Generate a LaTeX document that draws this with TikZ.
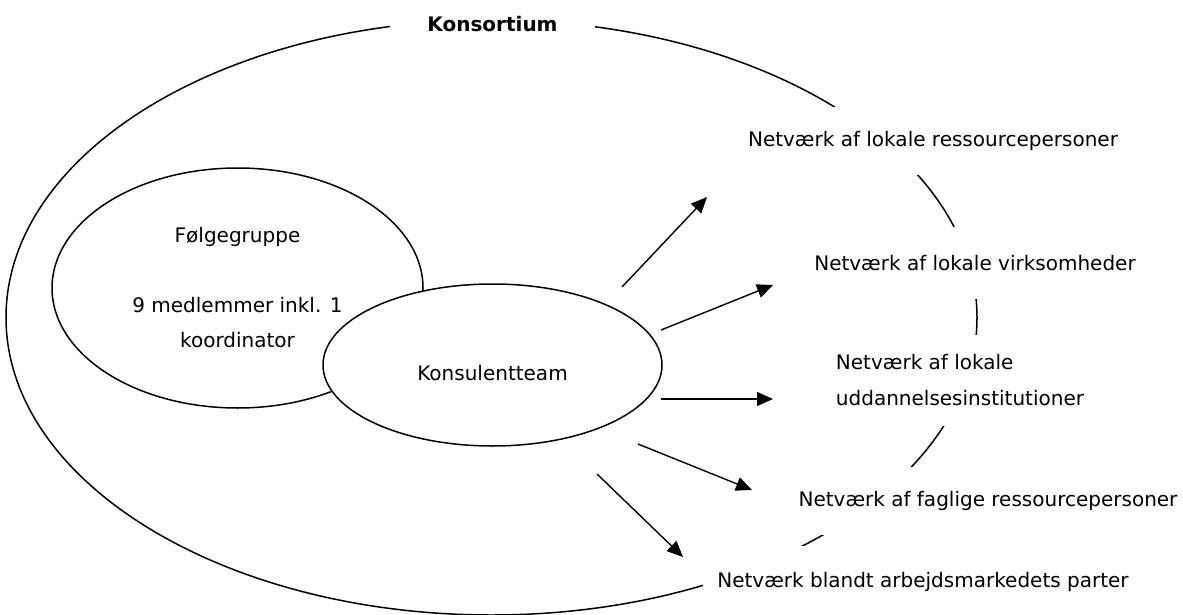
\documentclass[tikz,border=0pt]{standalone}
\usepackage{fontspec}
\setmainfont{DejaVu Sans}
\usetikzlibrary{shapes.geometric,arrows.meta}
\begin{document}
\begin{tikzpicture}[x=1pt,y=-1pt,
  line width=1.5pt,
  every node/.style={font=\fontsize{20}{24}\selectfont, text=black},
  oval/.style={draw, ellipse, inner sep=0pt},
  lbl/.style={fill=white, inner sep=0pt},
  arr/.style={-{Triangle[length=16pt,width=14pt]}, line width=1.4pt}]
\useasboundingbox (0,0) rectangle (1183,615);
% outer consortium ellipse
\node[oval, minimum width=971pt, minimum height=595pt] (kons) at (491.5,317.5) {};
% Følgegruppe
\node[oval, minimum width=371pt, minimum height=240pt, align=center,
      font=\fontsize{20}{35}\selectfont] (folg) at (237.5,288)
      {Følgegruppe\\[35pt]9 medlemmer inkl. 1\\koordinator};
% Konsulentteam
\node[oval, fill=white, minimum width=339pt, minimum height=162pt,
      text height=30pt, text depth=0pt] (kt) at (492.5,365) {Konsulentteam};
% arrows
\coordinate (a1s) at (622,287); \coordinate (a1e) at (707,197);
\coordinate (a2s) at (661,330); \coordinate (a2e) at (773,285);
\coordinate (a3s) at (661,399); \coordinate (a3e) at (773,399);
\coordinate (a4s) at (638,444); \coordinate (a4e) at (752,490);
\coordinate (a5s) at (597,474); \coordinate (a5e) at (683,557);
\draw[arr] (a1s) -- (a1e);
\draw[arr] (a2s) -- (a2e);
\draw[arr] (a3s) -- (a3e);
\draw[arr] (a4s) -- (a4e);
\draw[arr] (a5s) -- (a5e);
% labels
\node[lbl, minimum width=205pt, minimum height=34pt,
      font=\bfseries\fontsize{20}{24}\selectfont] (tkons) at (492.5,24) {Konsortium};
\node[lbl, minimum width=385pt, minimum height=68pt] (n1) at (933,141)
      {Netværk af lokale ressourcepersoner};
\node[lbl, minimum width=330pt, minimum height=72pt] (n2) at (975,263)
      {Netværk af lokale virksomheder};
\node[lbl, align=left, minimum width=260pt, minimum height=91pt,
      font=\fontsize{20}{36}\selectfont] (n3) at (960,380)
      {Netværk af lokale\\uddannelsesinstitutioner};
\node[lbl, minimum width=390pt, minimum height=68pt] (n4) at (988,501)
      {Netværk af faglige ressourcepersoner};
\node[lbl, minimum width=440pt, minimum height=72pt] (n5) at (923,582)
      {Netværk blandt arbejdsmarkedets parter};
\end{tikzpicture}
\end{document}
